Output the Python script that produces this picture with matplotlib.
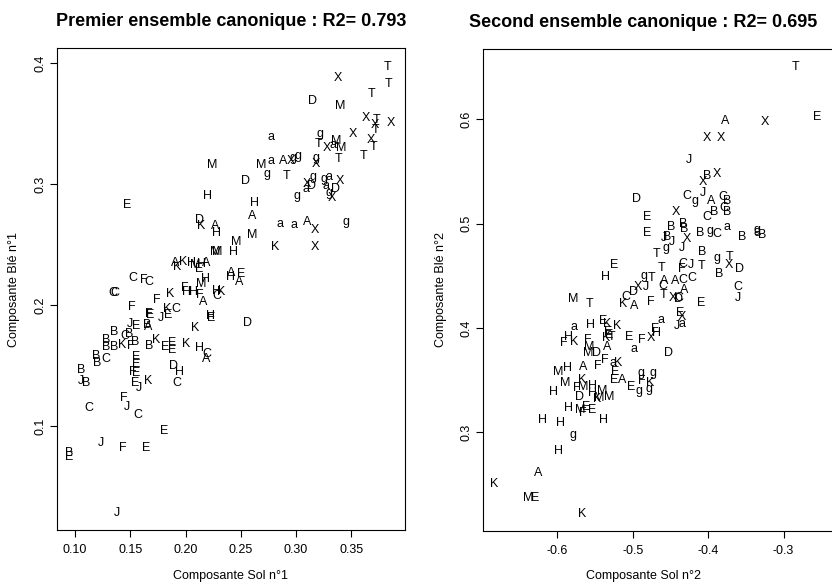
import matplotlib
matplotlib.use("Agg")
import matplotlib.pyplot as plt

plt.rcParams['font.family'] = ['Liberation Sans', 'DejaVu Sans']
plt.rcParams['axes.unicode_minus'] = False

# premier ensemble canonique
labels1 = list("TTXTDMXTXXTXXTagTXaMMMMaAXgggXTTgTDggaXaXDaDgXgHHE"
               "DKAHAaaAXgMMKXMMHAKKHMEHAAHEAHMCFCCCFHHFAHKCKFFKCE"
               "JFEHEDJEABKBCBBBBKFBBKEEEKHCABBCEEFEDHBJBEKCJFJCCEJFEBEJ")
sol1 = [.383, .384, .3375, .368, .315, .340, .363, .373, .386, .371,
        .372, .351, .368, .370, .277, .322, .320, .328, .3335, .336,
        .341, .2245, .268, .277, .288, .295, .297, .302, .318, .3175,
        .338, .361, .274, .291, .254, .3155, .325, .330, .340, .327,
        .3095, .314, .309, .336, .330, .3325, .301, .2196, .262, .1473,
        .213, .214, .2266, .228, .2607, .2854, .298, .3104, .317, .3448,
        .2456, .260, .2808, .317, .2266, .2287, .243, .1904, .1974, .1925,
        .2055, .2085, .2124, .2142, .2184, .2417, .241, .250, .2486, .2184,
        .214, .1527, .1627, .1672, .1346, .1364, .1995, .201, .207, .213,
        .216, .2281, .2326, .2281, .1859, .1744, .1518, .1838, .1913, .1844,
        .1775, .1669, .1681, .223, .223, .2558, .1497, .1558, .1663, .1651,
        .2091, .1353, .1449, .1491, .1287, .1287, .1353, .1425, .1506, .1542,
        .1672, .1732, .1814, .188, .188, .2004, .213, .2196, .2191, .1196,
        .1205, .128, .1552, .1558, .1527, .1549, .1889, .1949, .1061, .1054,
        .1106, .1542, .1663, .192, .1579, .1443, .1473, .1127, .1572, .1805,
        .1235, .1431, .1642, .0946, .0946, .1377]
ble1 = [.397, .383, .388, .375, .369, .365, .3545, .353, .351, .349,
        .345, .342, .337, .331, .339, .342, .333, .330, .3325, .336,
        .330, .316, .316, .319, .319, .319, .322, .323, .3215, .317,
        .321, .323, .3085, .307, .3025, .306, .304, .306, .303, .2985,
        .300, .299, .296, .296, .2925, .289, .290, .290, .2848, .283,
        .2705, .2655, .2655, .260, .2738, .267, .2664, .269, .2622, .269,
        .2526, .258, .248, .248, .2443, .2443, .2443, .2347, .236, .2314,
        .2347, .2333, .2298, .234, .2352, .2264, .2231, .2259, .2195, .2215,
        .2176, .2223, .2209, .2195, .2099, .2099, .214, .2112, .2112, .2085,
        .2025, .2118, .2112, .2077, .2093, .2044, .1988, .1969, .1969, .192,
        .1893, .1926, .192, .1912, .1893, .1851, .1843, .1829, .1823, .1837,
        .181, .1782, .1746, .1763, .1713, .1658, .1658, .1672, .1666, .1694,
        .1666, .1713, .1653, .1686, .163, .168, .1645, .1597, .1554, .1583,
        .1521, .1556, .1575, .1515, .1451, .1438, .1501, .1446, .1465, .1377,
        .136, .136, .1377, .1355, .1314, .1231, .1162, .1149, .1093, .0961,
        .086, .0823, .0823, .0777, .0749, .0281]

# second ensemble canonique
labels2 = list("TEAXXXJXBXDCgJACBXECBBCEBBBBgCaBgBaJBgJXJTBgTXDBCF"
               "JTTEHgTXJACACCACDKAFTXDCECJMTEXaJaaHEKKEEKTAEFXHEa"
               "DHFKFMMDMHAFFaKEEAEggFKggMKFMHHMMMKDHHMEEFHHHgHAKMEK")
sol2 = [-.2838, -.256, -.3772, -.3245, -.4011, -.3829, -.4257, -.4064, -.4015, -.3886,
        -.4956, -.4276, -.4174, -.4064, -.3962, -.3806, -.3753, -.4426, -.4806, -.4021,
        -.3918, -.3753, -.3789, -.4806, -.4492, -.4329, -.4316, -.4107, -.3975, -.3886,
        -.3753, -.3554, -.3355, -.3289, -.3352, -.4585, -.4549, -.4558, -.4483, -.4284,
        -.435, -.4682, -.4077, -.3878, -.371, -.3719, -.359, -.3855, -.4337, -.4342,
        -.4227, -.4085, -.4615, -.5248, -.5367, -.485, -.4748, -.4934, -.4824, -.4585,
        -.4602, -.4439, -.4329, -.4218, -.4316, -.5089, -.4992, -.5125, -.4983, -.4757,
        -.4585, -.4469, -.4395, -.4386, -.4098, -.3607, -.36, -.5788, -.5566, -.4373,
        -.4342, -.4625, -.4416, -.4342, -.5779, -.5566, -.539, -.5337, -.5212, -.5324,
        -.531, -.5358, -.5279, -.5341, -.5045, -.4881, -.4761, -.4682, -.4704, -.4983,
        -.4519, -.5854, -.592, -.5779, -.5589, -.558, -.5589, -.5477, -.5987, -.5862,
        -.5663, -.5464, -.5367, -.5257, -.5191, -.5235, -.5244, -.5138, -.5027, -.4916,
        -.4894, -.4873, -.4771, -.478, -.4727, -.5889, -.5676, -.5735, -.5655, -.5531,
        -.5531, -.5398, -.531, -.5443, -.5477, -.5712, -.6053, -.5854, -.5699, -.5623,
        -.5544, -.5668, -.6199, -.5951, -.539, -.5788, -.5987, -.6252, -.6836, -.6385,
        -.6296, -.5668]
ble2 = [.6499, .6019, .5981, .5971, .5818, .5818, .561, .5402, .5456, .5476,
        .5233, .5269, .5217, .5296, .5217, .5255, .5221, .5116, .5068, .5063,
        .5114, .5116, .515, .4907, .4965, .4996, .4945, .4913, .4929, .4897,
        .497, .4869, .4939, .4891, .4924, .4859, .4869, .4763, .4826, .4849,
        .4763, .4709, .4731, .4667, .4677, .4603, .4565, .4517, .4613, .4565,
        .4603, .4593, .4571, .4603, .4485, .4498, .4481, .4395, .4395, .4453,
        .4402, .445, .4464, .4481, .4363, .4299, .4347, .4229, .4213, .4248,
        .4313, .429, .4274, .4291, .4236, .4389, .429, .4274, .4226, .4146,
        .4107, .4076, .4018, .4037, .4011, .4028, .4069, .4037, .4018, .3964,
        .3932, .39, .391, .3817, .391, .3884, .39, .3948, .3989, .3795,
        .3756, .3916, .3852, .3868, .3884, .382, .3762, .3756, .358, .3613,
        .3622, .3638, .3692, .3661, .3666, .358, .35, .35, .3436, .3398,
        .357, .3494, .3469, .3411, .357, .3475, .35, .3421, .343, .3443,
        .3373, .3398, .3335, .3325, .3318, .3335, .3388, .3229, .3213, .3244,
        .3213, .3181, .3117, .3085, .3117, .2973, .2823, .2606, .2501, .2366,
        .2366, .2216]

xticks1 = [0.10, 0.15, 0.20, 0.25, 0.30, 0.35]
yticks1 = [0.1, 0.2, 0.3, 0.4]
xticks2 = [-0.6, -0.5, -0.4, -0.3]
yticks2 = [0.3, 0.4, 0.5, 0.6]


def draw_panel(ax, labels, xs, ys, xticks, yticks, xfmt, yfmt):
    for lab, x, y in zip(labels, xs, ys):
        ax.text(x, y, lab, ha='center', va='center', fontsize=9)
    ax.set_xticks(xticks)
    ax.set_xticklabels([xfmt.format(v) for v in xticks])
    ax.set_yticks(yticks)
    ax.set_yticklabels([yfmt.format(v) for v in yticks], rotation=90, va='center')
    ax.tick_params(direction='out', length=5, width=0.8, labelsize=9)
    ax.tick_params(axis='x', pad=5)
    ax.tick_params(axis='y', pad=2.5)
    for sp in ax.spines.values():
        sp.set_linewidth(0.8)


fig = plt.figure(figsize=(8.32, 5.85), dpi=100)

ax1 = fig.add_axes([0.0681, 0.094, 0.4186, 0.8234])
draw_panel(ax1, labels1, sol1, ble1, xticks1, yticks1, "{:.2f}", "{:.1f}")
ax1.set_xlim(0.0835, 0.3984)
ax1.set_ylim(0.0143, 0.4124)
ax1.set_title("Premier ensemble canonique : R2= 0.793", fontsize=13,
              fontweight='bold', pad=16)
ax1.set_xlabel("Composante Sol n°1", fontsize=9)
ax1.set_ylabel("Composante Blé n°1", fontsize=9)
ax1.xaxis.set_label_coords(0.5, -0.082)
ax1.yaxis.set_label_coords(-0.104, 0.5)

ax2 = fig.add_axes([0.5809, 0.0928, 0.4239, 0.8234])
draw_panel(ax2, labels2, sol2, ble2, xticks2, yticks2, "{:.1f}", "{:.1f}")
ax2.set_xlim(-0.6981, -0.2304)
ax2.set_ylim(0.2056, 0.6674)
ax2.set_title("Second ensemble canonique : R2= 0.695", fontsize=13,
              fontweight='bold', pad=16, x=0.453)
ax2.set_xlabel("Composante Sol n°2", fontsize=9)
ax2.set_ylabel("Composante Blé n°2", fontsize=9)
ax2.xaxis.set_label_coords(0.453, -0.082)
ax2.yaxis.set_label_coords(-0.102, 0.5)

fig.savefig("out.png", dpi=100)
